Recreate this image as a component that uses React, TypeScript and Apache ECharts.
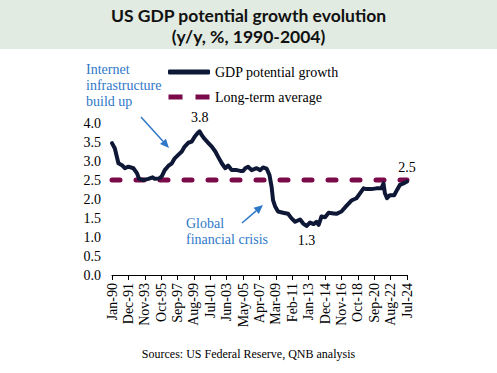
import React, { useEffect, useRef } from "react";
import * as echarts from "echarts";

const titleLines = ["US GDP potential growth evolution", "(y/y, %, 1990-2004)"];
const xTickLabels = [
  "Jan-90", "Dec-91", "Nov-93", "Oct-95", "Sep-97", "Aug-99", "Jul-01", "Jun-03", "May-05",
  "Apr-07", "Mar-09", "Feb-11", "Jan-13", "Dec-14", "Nov-16", "Oct-18", "Sep-20", "Aug-22", "Jul-24",
];
// month index since Jan-90
const months = [
  0, 4, 9, 14, 18, 23, 30, 35, 38, 44, 51, 57, 60, 66, 70, 74, 79, 84, 88, 93, 98, 102, 107, 112,
  116, 120, 123, 126, 129, 135, 140, 145, 149, 154, 159, 163, 168, 175, 180, 184, 187, 191, 196,
  203, 208, 212, 217, 221, 224, 226, 229, 233, 240, 247, 252, 257, 264, 268, 273, 278, 283, 287,
  290, 294, 299, 304, 311, 315, 322, 329, 336, 343, 348, 353, 357, 364, 371, 378, 381, 383, 386,
  390, 396, 400, 404, 409, 414,
];
const growth = [
  3.47, 3.33, 2.94, 2.89, 2.81, 2.85, 2.81, 2.68, 2.53, 2.5, 2.53, 2.57, 2.53, 2.54, 2.6, 2.76,
  2.87, 2.94, 3.07, 3.16, 3.25, 3.38, 3.48, 3.51, 3.64, 3.73, 3.78, 3.68, 3.6, 3.48, 3.38, 3.25,
  3.11, 2.94, 2.81, 2.88, 2.76, 2.76, 2.74, 2.74, 2.81, 2.85, 2.76, 2.81, 2.76, 2.83, 2.8, 2.63,
  2.32, 1.97, 1.8, 1.67, 1.64, 1.61, 1.49, 1.4, 1.46, 1.36, 1.29, 1.38, 1.34, 1.4, 1.32, 1.54,
  1.52, 1.64, 1.62, 1.61, 1.67, 1.82, 1.96, 2.02, 2.15, 2.28, 2.26, 2.26, 2.28, 2.28, 2.41, 2.15,
  2.02, 2.1, 2.1, 2.24, 2.37, 2.41, 2.46,
];
const longTermAverage = 2.5;
const labeledPoints: { month: number; text: string; pos: string }[] = [
  { month: 123, text: "3.8", pos: "top" },
  { month: 273, text: "1.3", pos: "bottom" },
  { month: 414, text: "2.5", pos: "top" },
];
const seriesNames = ["GDP potential growth", "Long-term average"];
const annotation1 = ["Internet", "infrastructure", "build up"];
const annotation2 = ["Global", "financial crisis"];
const sourceText = "Sources: US Federal Reserve, QNB analysis";

const SERIF = "Liberation Serif";
const BLUE = "#2f78c8";
const NAVY = "#0e1836";
const MAROON = "#7a0a4a";

function arrow(x1: number, y1: number, x2: number, y2: number) {
  const dx = x2 - x1, dy = y2 - y1;
  const len = Math.sqrt(dx * dx + dy * dy);
  const ux = dx / len, uy = dy / len;
  const hl = 9, hw = 4;
  const bx = x2 - ux * hl, by = y2 - uy * hl;
  return [
    { type: "line", shape: { x1, y1, x2: bx, y2: by }, style: { stroke: BLUE, lineWidth: 1.5 } },
    {
      type: "polygon",
      shape: { points: [[x2, y2], [bx - uy * hw, by + ux * hw], [bx + uy * hw, by - ux * hw]] },
      style: { fill: BLUE },
    },
  ];
}

export default function App() {
  const ref = useRef<HTMLDivElement>(null);
  useEffect(() => {
    if (!ref.current) return;
    const chart = echarts.init(ref.current, null, { renderer: "svg" });
    const lineData = months.map((m, i) => [m, growth[i]]);
    const markData = labeledPoints.map((p) => {
      const idx = months.indexOf(p.month);
      return {
        coord: [p.month, growth[idx]],
        label: {
          show: true,
          formatter: p.text,
          position: p.pos,
          distance: p.pos === "top" ? 7 : 8,
        },
      };
    });
    chart.setOption({
      animation: false,
      backgroundColor: "#fff",
      title: {
        text: titleLines.join("\n"),
        left: "center",
        top: 0,
        textStyle: {
          fontFamily: "Lato",
          fontWeight: "bold",
          fontSize: 17.5,
          lineHeight: 21,
          color: "#111",
        },
      },
      legend: {
        orient: "vertical",
        left: 168,
        top: 65,
        padding: 0,
        itemWidth: 42,
        itemHeight: 5,
        itemGap: 11,
        data: [
          { name: seriesNames[0], icon: "roundRect" },
          { name: seriesNames[1], icon: "path://M0,0h14v5h-14zM27,0h14v5h-14z" },
        ],
        textStyle: { fontFamily: SERIF, fontSize: 14, color: "#000" },
      },
      grid: { left: 112, right: 90, top: 123, bottom: 98 },
      xAxis: {
        type: "value",
        min: 0,
        max: 414,
        interval: 23,
        splitLine: { show: false },
        axisLine: { show: true, onZero: false, lineStyle: { color: "#000", width: 1 } },
        axisTick: { show: true, length: 5, lineStyle: { color: "#000" } },
        axisLabel: {
          rotate: 90,
          margin: 8,
          fontFamily: SERIF,
          fontSize: 14,
          color: "#000",
          formatter: (v: number) => xTickLabels[Math.round(v / 23)] ?? "",
        },
      },
      yAxis: {
        type: "value",
        min: 0,
        max: 4,
        interval: 0.5,
        splitLine: { show: false },
        axisLine: { show: false },
        axisTick: { show: false },
        axisLabel: {
          margin: 11,
          fontFamily: SERIF,
          fontSize: 14,
          color: "#000",
          formatter: (v: number) => v.toFixed(1),
        },
      },
      series: [
        {
          name: seriesNames[1],
          type: "line",
          data: [[0, longTermAverage], [414, longTermAverage]],
          symbol: "none",
          lineStyle: { color: MAROON, width: 5, type: [8, 16], cap: "round" },
          itemStyle: { color: MAROON },
          z: 2,
        },
        {
          name: seriesNames[0],
          type: "line",
          data: lineData,
          symbol: "none",
          lineStyle: { color: NAVY, width: 4, join: "round", cap: "round" },
          itemStyle: { color: NAVY },
          z: 3,
          markPoint: {
            symbol: "circle",
            symbolSize: 0,
            itemStyle: { color: "rgba(0,0,0,0)" },
            label: { fontFamily: SERIF, fontSize: 14, color: "#000" },
            data: markData,
          },
        },
      ],
      graphic: [
        { type: "rect", z: -1, shape: { x: 0, y: 0, width: 497, height: 49 }, style: { fill: "#e1ebe1" } },
        {
          type: "text",
          left: 86,
          top: 61,
          style: { text: annotation1.join("\n"), font: `14px "Liberation Serif"`, fill: BLUE, lineHeight: 16 },
        },
        {
          type: "text",
          left: 186,
          top: 215,
          style: { text: annotation2.join("\n"), font: `14px "Liberation Serif"`, fill: BLUE, lineHeight: 16 },
        },
        ...arrow(141, 117, 169, 148),
        ...arrow(242, 223, 263, 205),
        {
          type: "text",
          left: "center",
          top: 348,
          style: { text: sourceText, font: `12px "Liberation Serif"`, fill: "#000" },
        },
      ],
    });
    return () => chart.dispose();
  }, []);
  return (
    <div
      ref={ref}
      style={{ position: "fixed", left: 0, top: 0, width: 497, height: 373 }}
    />
  );
}
